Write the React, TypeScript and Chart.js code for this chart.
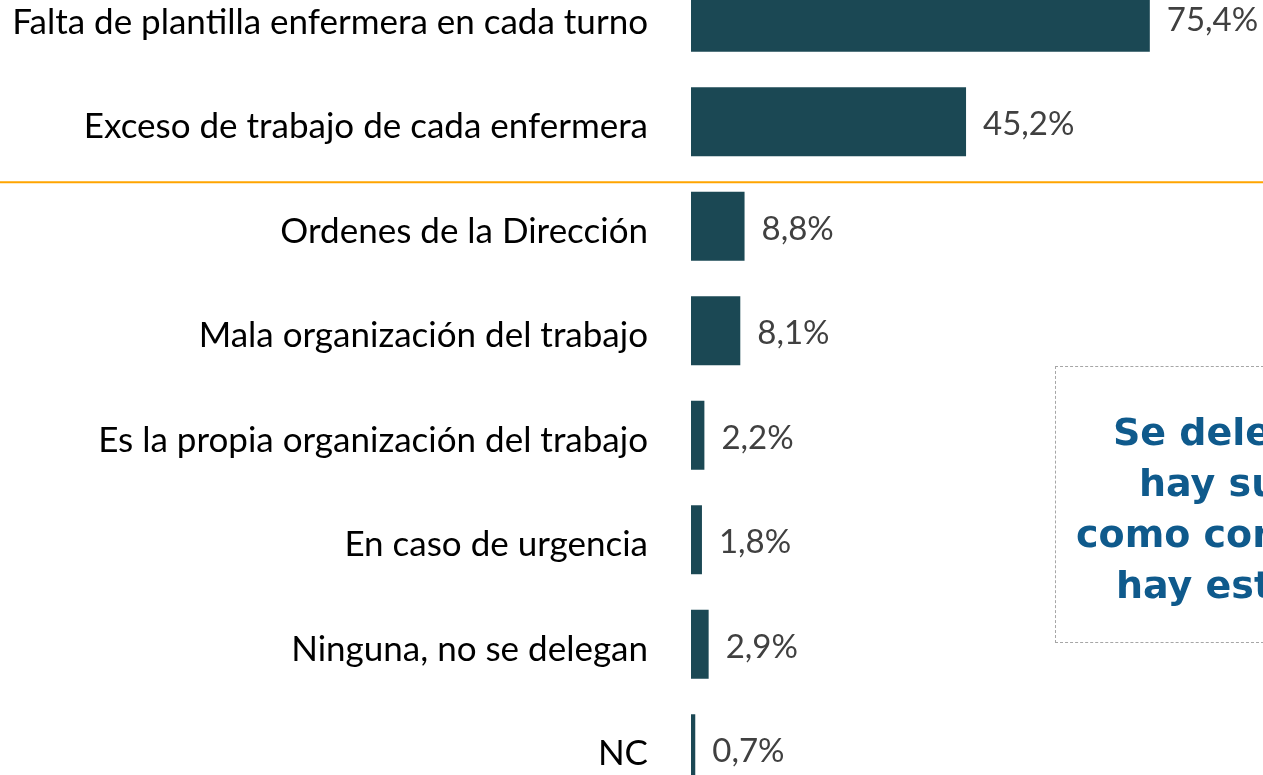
import React, { useEffect, useRef } from "react";
import { Chart, registerables } from "chart.js";
Chart.register(...registerables);

const categories = [
  "Falta de plantilla enfermera en cada turno",
  "Exceso de trabajo de cada enfermera",
  "Ordenes de la Dirección",
  "Mala organización del trabajo",
  "Es la propia organización del trabajo",
  "En caso de urgencia",
  "Ninguna, no se delegan",
  "NC",
];
const values = [75.4, 45.2, 8.8, 8.1, 2.2, 1.8, 2.9, 0.7];
const separatorValue = 1.58;
const xMax = 94;
const noteLines = [
  "Se delegan tareas porque no",
  "hay suficiente personal,",
  "como  consecuencia de que no",
  "hay estabilidad",
];
const noteOffsets = [57, 83, 20, 60];

const W = 1263;
const H = 836;
const TOP = -35;

export default function App() {
  const ref = useRef<HTMLCanvasElement | null>(null);
  useEffect(() => {
    if (!ref.current) return;
    const valueLabels = {
      id: "valueLabels",
      afterDatasetsDraw(chart: any) {
        const ctx = chart.ctx;
        const meta = chart.getDatasetMeta(0);
        ctx.save();
        ctx.font = "33px Lato";
        ctx.fillStyle = "#404040";
        ctx.textAlign = "left";
        ctx.textBaseline = "middle";
        meta.data.forEach((bar: any, i: number) => {
          const t = values[i].toFixed(1).replace(".", ",") + "%";
          ctx.fillText(t, bar.x + 17, bar.y + 3);
        });
        ctx.restore();
      },
    };
    const separator = {
      id: "separator",
      afterDraw(chart: any) {
        const ctx = chart.ctx;
        const y = chart.scales.y.getPixelForValue(separatorValue);
        ctx.save();
        ctx.strokeStyle = "#FFA500";
        ctx.lineWidth = 2;
        ctx.beginPath();
        ctx.moveTo(0, y);
        ctx.lineTo(chart.width, y);
        ctx.stroke();
        ctx.restore();
      },
    };
    const chart = new Chart(ref.current, {
      type: "bar",
      data: {
        labels: categories,
        datasets: [
          {
            data: values,
            backgroundColor: "#1B4854",
            barPercentage: 0.66,
            categoryPercentage: 1,
          },
        ],
      },
      options: {
        indexAxis: "y",
        responsive: false,
        animation: false,
        layout: { padding: 0 },
        plugins: { legend: { display: false }, tooltip: { enabled: false } },
        scales: {
          x: { display: false, min: 0, max: xMax },
          y: {
            grid: { display: false, drawTicks: false },
            border: { display: false },
            ticks: {
              padding: 43,
              labelOffset: 5,
              color: "#000000",
              font: { family: "Lato", size: 35 },
            },
            afterFit(scale: any) {
              scale.width = 691;
              scale.paddingTop = 0;
              scale.paddingBottom = 0;
            },
          },
        },
      },
      plugins: [valueLabels, separator],
    });
    return () => chart.destroy();
  }, []);

  return (
    <div
      style={{
        position: "fixed",
        left: 0,
        top: 0,
        width: W,
        height: 775,
        overflow: "hidden",
        background: "#ffffff",
      }}
    >
      <canvas
        ref={ref}
        width={W}
        height={H}
        style={{ position: "absolute", left: 0, top: TOP, width: W, height: H }}
      />
      <div
        style={{
          position: "absolute",
          left: 1055,
          top: 366,
          width: 400,
          height: 277,
          border: "1px dashed #a6a6a6",
          boxSizing: "border-box",
        }}
      >
        {noteLines.map((l, i) => (
          <div
            key={i}
            style={{
              position: "absolute",
              left: noteOffsets[i],
              top: 40 + i * 51,
              whiteSpace: "nowrap",
              fontFamily: "'DejaVu Sans'",
              fontWeight: "bold",
              fontSize: 38,
              lineHeight: "51px",
              color: "#0F5A8C",
            }}
          >
            {l}
          </div>
        ))}
      </div>
    </div>
  );
}
